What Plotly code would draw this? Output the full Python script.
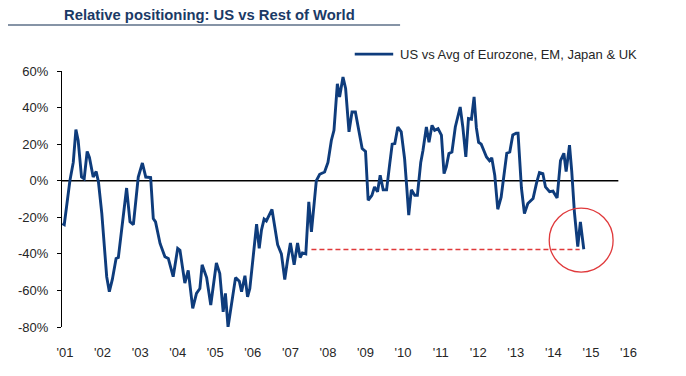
import plotly.graph_objects as go

# ---- data ----
years = [
    2000.93, 2000.98, 2001.13, 2001.22, 2001.29, 2001.35, 2001.44, 2001.51, 2001.59, 2001.65,
    2001.75, 2001.83, 2001.89, 2001.98, 2002.11, 2002.18, 2002.26, 2002.36, 2002.42, 2002.51,
    2002.64, 2002.73, 2002.82, 2002.95, 2003.06, 2003.15, 2003.28, 2003.35, 2003.41, 2003.53,
    2003.66, 2003.75, 2003.88, 2004.00, 2004.06, 2004.19, 2004.28, 2004.40, 2004.50, 2004.59,
    2004.65, 2004.77, 2004.88, 2005.03, 2005.12, 2005.21, 2005.27, 2005.34, 2005.45, 2005.54,
    2005.64, 2005.70, 2005.79, 2005.86, 2005.92, 2006.01, 2006.10, 2006.17, 2006.23, 2006.30,
    2006.36, 2006.51, 2006.59, 2006.66, 2006.76, 2006.85, 2006.92, 2007.00, 2007.10, 2007.19,
    2007.26, 2007.32, 2007.41, 2007.49, 2007.56, 2007.62, 2007.69, 2007.78, 2007.91, 2008.00,
    2008.09, 2008.16, 2008.25, 2008.31, 2008.40, 2008.47, 2008.56, 2008.64, 2008.73, 2008.82,
    2008.91, 2009.00, 2009.07, 2009.17, 2009.24, 2009.32, 2009.39, 2009.47, 2009.56, 2009.64,
    2009.71, 2009.78, 2009.86, 2009.95, 2010.04, 2010.10, 2010.15, 2010.22, 2010.31, 2010.38,
    2010.47, 2010.53, 2010.62, 2010.69, 2010.77, 2010.84, 2010.93, 2011.02, 2011.09, 2011.15,
    2011.22, 2011.30, 2011.39, 2011.52, 2011.59, 2011.67, 2011.74, 2011.82, 2011.89, 2011.95,
    2012.01, 2012.08, 2012.22, 2012.30, 2012.36, 2012.44, 2012.52, 2012.61, 2012.70, 2012.76,
    2012.84, 2012.92, 2013.01, 2013.06, 2013.15, 2013.23, 2013.32, 2013.46, 2013.55, 2013.63,
    2013.72, 2013.79, 2013.90, 2013.99, 2014.10, 2014.19, 2014.28, 2014.34, 2014.43, 2014.49,
    2014.56, 2014.65, 2014.72, 2014.81,
]
positioning = [
    -23.4, -24.0, 0.0, 10.0, 28.0, 22.0, 2.0, 1.0, 16.0, 12.7,
    2.0, 5.0, -0.6, -18.0, -52.5, -60.7, -54.0, -42.5, -42.0, -25.0,
    -4.0, -22.5, -24.0, 2.0, 9.7, 2.0, 1.7, -20.7, -22.5, -34.3,
    -41.6, -42.5, -52.5, -37.0, -38.0, -56.0, -49.0, -69.8, -61.6, -59.0,
    -46.0, -53.0, -68.0, -45.0, -50.7, -71.7, -61.6, -80.0, -63.5, -53.0,
    -55.0, -60.7, -52.0, -63.5, -59.0, -41.6, -23.8, -37.0, -27.0, -21.0,
    -22.0, -15.7, -27.0, -35.0, -40.0, -54.0, -44.0, -34.0, -46.0, -34.0,
    -42.0, -39.5, -40.0, -11.6, -28.0, -13.4, 0.0, 3.5, 4.8, 10.0,
    22.0, 27.6, 53.0, 45.8, 56.7, 50.4, 26.7, 37.6, 37.6, 27.6,
    17.6, 16.0, -10.7, -8.0, -3.4, -6.0, 3.0, -5.0, -5.0, 8.5,
    20.0, 20.3, 29.4, 26.7, 12.0, -4.3, -18.8, -5.0, -8.0, -8.0,
    10.0, 16.7, 29.4, 21.0, 30.3, 27.6, 28.5, 24.9, 3.9, 7.5,
    14.9, 15.7, 29.4, 40.3, 29.4, 13.0, 34.0, 33.6, 45.8, 29.0,
    21.0, 20.0, 13.0, 11.0, 12.5, 3.0, -15.6, -9.0, 5.0, 15.0,
    15.7, 25.0, 26.0, 26.0, -4.0, -18.0, -12.5, -9.7, -1.5, 4.5,
    3.9, -3.4, -6.0, -5.7, -9.4, 11.0, 15.0, 5.0, 19.4, 5.0,
    -17.0, -36.0, -22.5, -37.5,
]
series_name = "US vs Avg of Eurozone, EM, Japan & UK"
title_text = "Relative positioning: US vs Rest of World"

tick_years = list(range(2001, 2017))
tick_labels = ["'01", "'02", "'03", "'04", "'05", "'06", "'07", "'08",
               "'09", "'10", "'11", "'12", "'13", "'14", "'15", "'16"]
y_ticks = [60, 40, 20, 0, -20, -40, -60, -80]
y_tick_labels = ["60%", "40%", "20%", "0%", "-20%", "-40%", "-60%", "-80%"]

# reference level (dashed) and highlight circle
ref_level = -37.6
ref_start, ref_end = 2007.56, 2014.70
circle_x, circle_y = 2014.74, -32.5
circle_rx, circle_ry = 0.85, 17.5
zero_line_end = 2015.73

# ---- figure ----
BLUE = "#0E3C7C"
RED = "#E0393B"
FONT = "Liberation Sans, Arial, sans-serif"

fig = go.Figure()
fig.add_trace(go.Scatter(
    x=years, y=positioning, mode="lines", name=series_name,
    line=dict(color=BLUE, width=2.9), showlegend=False,
))
fig.add_trace(go.Scatter(
    x=[ref_start, ref_end], y=[ref_level, ref_level], mode="lines",
    line=dict(color=RED, width=1.5, dash="5px,3px"), showlegend=False,
    hoverinfo="skip",
))

fig.add_shape(type="line", xref="x", yref="y", x0=2000.92, x1=zero_line_end,
              y0=0, y1=0, line=dict(color="black", width=1.4), layer="below")
fig.add_shape(type="circle", xref="x", yref="y",
              x0=circle_x - circle_rx, x1=circle_x + circle_rx,
              y0=circle_y - circle_ry, y1=circle_y + circle_ry,
              line=dict(color=RED, width=1.3))
# title underline
fig.add_shape(type="line", xref="paper", yref="paper", x0=-0.099, x1=0.589,
              y0=1.180, y1=1.180, line=dict(color="#5E7088", width=1.5))
# title
fig.add_annotation(text="<b>" + title_text + "</b>", xref="paper", yref="paper",
                   x=0.0, xanchor="left", y=1.217, yanchor="middle", showarrow=False,
                   font=dict(family=FONT, size=14.8, color="#1B3A66"))
# legend (line sample + label)
fig.add_shape(type="line", xref="paper", yref="paper", x0=0.510, x1=0.577,
              y0=1.066, y1=1.066, line=dict(color=BLUE, width=2.9))
fig.add_annotation(text=series_name, xref="paper", yref="paper",
                   x=0.585, xanchor="left", y=1.066, yanchor="middle", showarrow=False,
                   font=dict(family=FONT, size=13, color="#262626"))

fig.update_layout(
    width=678, height=368,
    margin=dict(l=54, r=50, t=63, b=49, autoexpand=False),
    paper_bgcolor="white", plot_bgcolor="white",
    font=dict(family=FONT, size=13, color="#262626"),
    showlegend=False,
    xaxis=dict(range=[2000.92, 2016.2], tickvals=tick_years, ticktext=tick_labels,
               showgrid=False, zeroline=False, showline=False, ticks="",
               automargin=False, ticklabelstandoff=16, tickfont=dict(size=13)),
    yaxis=dict(range=[-80, 60], tickvals=y_ticks, ticktext=y_tick_labels,
               showgrid=False, zeroline=False, showline=True, linecolor="black",
               linewidth=1.2, ticks="outside", ticklen=4, tickcolor="black",
               automargin=False,
               tickwidth=1.2, ticklabelstandoff=6, tickfont=dict(size=13)),
)

fig.write_html("out.html")
